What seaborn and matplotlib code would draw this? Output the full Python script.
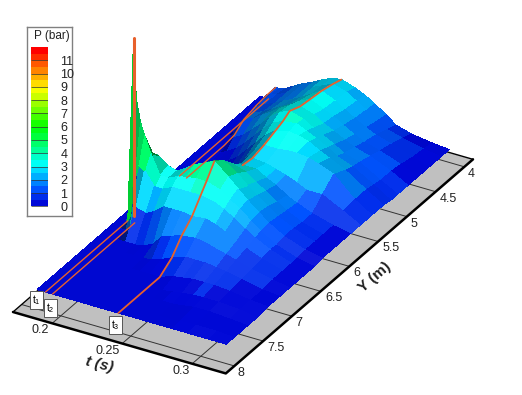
import numpy as np
import matplotlib
matplotlib.use("Agg")
import matplotlib.pyplot as plt
import seaborn as sns
from matplotlib.colors import ListedColormap, BoundaryNorm
from mpl_toolkits.mplot3d import proj3d

sns.set_theme(style="white")
plt.rcParams["font.family"] = ["Liberation Sans", "DejaVu Sans"]

t_vals = [.172,.177,.178,.180,.183,.186,.190,.197,.203,.210,.216,.223,.230,.240,.247,.254,.262,.269,.280,.295,.307]
y_vals = [7.73,7.6,7.36,7.2,7.01,6.8,6.63,6.45,6.3,6.2,6.06,5.9,5.75,5.57,5.4,5.2,5.0,4.87,4.75,4.57,4.4,4.2,4.0,3.85]

p172 = [.1,.1,.1,.1,.1,.1,.1,.1,.1,.1,.1,.1,.1,.1,.1,.1,.1,.1,.1,.1,.1,.1,.1,.1]
p177 = [.1,.1,.1,.1,.1,.1,.1,.1,.1,.1,.1,.1,.1,.1,.1,.1,.1,.1,.1,.1,.1,.1,.1,.1]
p178 = [.1,.1,.1,.1,.1,.1,.1,.1,.1,12,.1,.1,.1,.1,.1,.1,.1,.1,.1,.1,.1,.1,.1,.1]
p180 = [.1,.1,.1,.1,.1,.1,.1,.1,.5,8,.5,.1,.1,.1,.1,.1,.1,.1,.1,.1,.1,.1,.1,.1]
p183 = [.1,.1,.1,.1,.1,.1,.1,.1,3,6.5,3,.2,.1,.1,.1,.1,.1,.1,.1,.2,.7,.9,1,1]
p186 = [.1,.1,.1,.1,.1,.1,.1,.5,4,5.7,4,1,.1,.1,.1,.1,.1,.1,.3,1,1.1,1.1,1.1,1]
p190 = [.1,.1,.1,.1,.1,.1,.1,1.8,3.8,4.7,4,2,.4,.1,.1,.1,.1,.3,.8,1.4,1.3,1.2,1.2,1.1]
p197 = [.1,.1,.1,.1,.1,.1,.1,1.6,2.9,3.3,3.5,2.6,1.5,.5,.1,.1,.3,.7,1.2,1.7,1.6,1.5,1.5,1.5]
p203 = [.1,.1,.1,.1,.1,.1,.2,1.9,2.9,3.3,3.3,2.8,2,1,.3,.3,.7,1.2,1.7,2.1,1.9,1.8,1.8,1.8]
p210 = [.1,.1,.1,.1,.1,.1,.5,2.4,3.2,3.6,3.7,3.2,2.4,1.5,.8,.8,1.4,1.9,2.3,2.5,2.3,2.1,2.1,2.1]
p216 = [.1,.1,.1,.1,.1,.2,1.2,2.4,3.2,3.7,4.1,3.6,2.8,2,1.5,1.5,2,2.5,2.9,2.9,2.6,2.4,2.4,2.4]
p223 = [.1,.1,.1,.1,.1,.4,1.4,2.4,3.2,3.8,4.4,4,3.2,2.5,2.2,2.3,2.7,3.1,3.4,3.3,3,2.8,2.7,2.7]
p230 = [.1,.1,.1,.1,.1,.7,1.6,2.3,3.2,3.8,4.7,4.2,3.5,2.8,2.7,2.9,3.2,3.4,3.7,3.4,3.3,3.2,3,2.8]
p240 = [.1,.1,.1,.1,.4,1,1.7,2.4,3,3.5,3.9,3.6,3.2,2.8,2.6,2.9,3.4,3.5,3.4,3.1,2.9,2.8,2.7,2.5]
p247 = [.1,.1,.1,.2,.5,1,1.6,2.2,2.7,3,3.3,3,2.7,2.4,2.4,3,3.3,3.2,3,2.7,2.6,2.4,2.3,2.2]
p254 = [.1,.1,.1,.3,.6,1,1.4,1.9,2.3,2.6,2.7,2.5,2.3,2.1,2.2,3,3.1,2.9,2.7,2.4,2.2,2,1.9,1.8]
p262 = [.1,.1,.2,.4,.6,.9,1.2,1.5,1.8,2,2.1,2,1.8,1.6,1.9,2.9,2.7,2.5,2.3,2,1.8,1.6,1.4,1.3]
p269 = [.1,.15,.3,.4,.6,.8,1,1.2,1.4,1.5,1.6,1.5,1.4,1.3,1.6,2.7,2.4,2.1,1.9,1.7,1.5,1.3,1,.8]
p280 = [.1,.2,.3,.4,.5,.6,.7,.8,.9,.9,1,1,.9,.9,1.6,2.3,1.9,1.7,1.6,1.4,1.2,1,.7,.5]
p295 = [.1,.2,.2,.3,.3,.3,.4,.4,.4,.4,.5,.5,.5,.5,.9,1,1,.9,.8,.8,.7,.5,.4,.3]
p307 = [.1,.1,.1,.1,.2,.2,.2,.2,.2,.2,.3,.3,.3,.3,.3,.3,.3,.2,.2,.2,.2,.2,.2,.2]

t_ticks = [0.2, 0.25, 0.3]
t_tick_labels = ["0.2", "0.25", "0.3"]
y_ticks = [4, 4.5, 5, 5.5, 6, 6.5, 7, 7.5, 8]
y_tick_labels = ["4", "4.5", "5", "5.5", "6", "6.5", "7", "7.5", "8"]
cbar_ticks = list(range(12))
band_edges = np.arange(0, 12.5, 0.5)
key_colors = ["#0008d8", "#0050ff", "#00a8ff", "#00ffff", "#00ffa8", "#00ff50", "#00ff00",
              "#55ff00", "#aaff00", "#ffff00", "#ffaa00", "#ff5500", "#ff0000"]

P = np.array([p172,p177,p178,p180,p183,p186,p190,p197,p203,p210,p216,p223,p230,
              p240,p247,p254,p262,p269,p280,p295,p307])
T, Y = np.meshgrid(t_vals, y_vals, indexing="ij")
cmap = ListedColormap(sns.blend_palette(key_colors, n_colors=len(band_edges) - 1))
norm = BoundaryNorm(band_edges, cmap.N, clip=True)

T_MIN, T_MAX, Y_FAR, Y_NEAR = 0.172, 0.324, 3.85, 8.15
BOX = (246.5, 496, 216)
Z_TOP = 12.5
fig = plt.figure(figsize=(5.22, 3.95), dpi=100)
FW, FH = 522.0, 395.0
ax = fig.add_axes([0, 0, 1, 1], projection="3d", computed_zorder=False)
ax.set_proj_type("ortho")
ax.view_init(elev=30, azim=-60)
ax.set_xlim(T_MIN, T_MAX); ax.set_ylim(Y_NEAR, Y_FAR); ax.set_zlim(0, Z_TOP)
ax.set_box_aspect(BOX)
ax.set_axis_off()

def proj(a, b, c=0.0):
    x, y, _ = proj3d.proj_transform(a, b, c, ax.get_proj())
    return float(x), float(y)

# place the axes so the floor corners fall where they do in the reference
ax.set_position([(FW - FH) / 2 / FW, 0, FH / FW, 1])
ax.apply_aspect()
d0 = ax.transData.transform(proj(T_MIN, Y_NEAR))
d1 = ax.transData.transform(proj(T_MAX, Y_FAR))
k = (473 - 13) / (d1[0] - d0[0])
side = FH * k
cx = 13 + k * (FW / 2 - d0[0])
cy = (FH - 312) + k * (FH / 2 - d0[1])
ax.set_position([(cx - side / 2) / FW, (cy - side / 2) / FH, side / FW, side / FH])

floor_t, floor_y = np.meshgrid([T_MIN, T_MAX], [Y_NEAR, Y_FAR], indexing="ij")
ax.plot_surface(floor_t, floor_y, np.zeros_like(floor_t), color="#c0c0c0", shade=False, zorder=1, linewidth=0)
for v in t_ticks:
    ax.plot([v, v], [Y_NEAR, Y_FAR], [0, 0], color="#333333", lw=0.7, zorder=2)
for v in y_ticks:
    ax.plot([T_MIN, T_MAX], [v, v], [0, 0], color="#333333", lw=0.7, zorder=2)
ax.plot([T_MIN, T_MAX, T_MAX], [Y_NEAR, Y_NEAR, Y_FAR], [0, 0, 0], color="black", lw=1.8, zorder=2.5)
ax.plot([T_MAX, T_MIN, T_MIN], [Y_FAR, Y_FAR, Y_NEAR], [0, 0, 0], color="black", lw=1.0, zorder=2.1)

face_p = (P[:-1, :-1] + P[1:, :-1] + P[:-1, 1:] + P[1:, 1:]) / 4
faces = cmap(norm(face_p))

# lighting worked out in box units, since the data units differ so much
bx = (T - T_MIN) / (T_MAX - T_MIN) * BOX[0]
by = (Y_NEAR - Y) / (Y_NEAR - Y_FAR) * BOX[1]
bz = P / Z_TOP * BOX[2]
d1v = np.stack([bx[1:, 1:] - bx[:-1, :-1], by[1:, 1:] - by[:-1, :-1], bz[1:, 1:] - bz[:-1, :-1]], -1)
d2v = np.stack([bx[:-1, 1:] - bx[1:, :-1], by[:-1, 1:] - by[1:, :-1], bz[:-1, 1:] - bz[1:, :-1]], -1)
n = np.cross(d1v, d2v)
n = n / np.linalg.norm(n, axis=-1, keepdims=True)
n = n * np.sign(n[..., 2:3])
light = np.array([0.3, -0.5, 0.8]); light = light / np.linalg.norm(light)
f = np.clip(0.2 + 0.95 * (n @ light), 0.5, 1.08)[..., None]
rgb = faces[..., :3]
faces[..., :3] = np.where(f <= 1, rgb * f, rgb + (1 - rgb) * (f - 1) * 1.2)
ax.plot_surface(T, Y, P, rstride=1, cstride=1, facecolors=faces, shade=False,
                linewidth=0, antialiased=False, zorder=3)

LINE = "#e8602c"
i1, i2, i3 = t_vals.index(.178), t_vals.index(.183), t_vals.index(.230)
yv = np.array(y_vals)
front = yv > 6.25
back = yv < 5.45
ax.plot(T[i1][front], yv[front], P[i1][front], color=LINE, lw=1.0, zorder=4)
ax.plot(T[i1][back], yv[back], P[i1][back], color=LINE, lw=1.0, zorder=4)
ax.plot(T[i2][front], yv[front], P[0][front], color=LINE, lw=1.0, zorder=4)
ax.plot(T[i2][back], yv[back], P[i2][back], color=LINE, lw=1.0, zorder=4)
ax.plot([t_vals[i1], t_vals[i1]], [y_vals[9], y_vals[9]], [P[0][9], P[i1][9]], color=LINE, lw=2.2, zorder=4)
near3 = yv > 6.0
far3 = yv < 5.6
ax.plot(T[i3][near3], yv[near3], P[i3][near3], color=LINE, lw=1.3, zorder=4)
ax.plot(T[i3][far3], yv[far3], P[i3][far3], color=LINE, lw=1.3, zorder=4)

TXT = "#222222"
def lab(s, a, b, dx, dy, size=9, **kw):
    ax.annotate(s, xy=proj(a, b), xycoords="data", xytext=(dx, dy), textcoords="offset pixels",
                ha="center", va="center", fontsize=size, color=TXT, zorder=20, annotation_clip=False, **kw)

for v, s, d in zip(t_ticks, t_tick_labels, [(-12, -7), (-15, -7), (-11, -7)]):
    lab(s, v, Y_NEAR, d[0], d[1])
for i, (v, s) in enumerate(zip(y_ticks, y_tick_labels)):
    lab(s, T_MAX, v, 7 if i % 2 == 0 else 13, -7)
lab("t (s)", 0.248, Y_NEAR, -20, -22, size=11, rotation=-14, fontweight="bold", fontstyle="italic")
lab("Y (m)", T_MAX, 6.0, 25, -11, size=11, rotation=41, fontweight="bold")
for s, a, dx, dy in [("1", t_vals[i1], -9, -8), ("2", t_vals[i2], -2, -14), ("3", t_vals[i3], -3, -12)]:
    ax.annotate(r"$\mathregular{t_" + s + "}$", xy=proj(a, y_vals[0], 0.1), xycoords="data", xytext=(dx, dy),
                textcoords="offset pixels", ha="center", va="center", fontsize=7.5, color="black", zorder=20,
                bbox=dict(boxstyle="square,pad=0.2", fc="white", ec="#555555", lw=0.7), annotation_clip=False)

box = fig.add_axes([27 / FW, 1 - 216 / FH, 45 / FW, 189 / FH], zorder=10)
box.set_xticks([]); box.set_yticks([]); box.set_facecolor("white")
for sp in box.spines.values():
    sp.set_color("#808080"); sp.set_linewidth(1)
box.text(0.56, 0.951, "P (bar)", transform=box.transAxes, ha="center", va="center", fontsize=8.5, color=TXT)
cax = fig.add_axes([31 / FW, 1 - 207 / FH, 17 / FW, 160 / FH], zorder=11)
cax.pcolormesh([0, 1], band_edges, np.array(band_edges[:-1] + 0.25).reshape(-1, 1), cmap=cmap, norm=norm)
cax.hlines(cbar_ticks, 0, 1, color="#333333", lw=0.5)
cax.set_xticks([]); cax.yaxis.tick_right()
cax.set_yticks(cbar_ticks); cax.set_yticklabels([str(v) for v in cbar_ticks], fontsize=9, color=TXT)
cax.tick_params(axis="y", length=0, pad=9)
cax.set_ylim(-0.05, 12)
for sp in cax.spines.values():
    sp.set_visible(False)

fig.savefig("out.png", dpi=100)
